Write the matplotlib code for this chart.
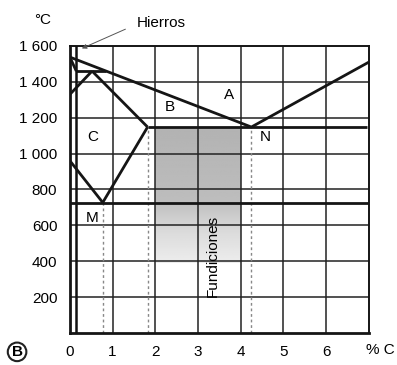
import matplotlib
matplotlib.use("Agg")
import matplotlib.pyplot as plt
import numpy as np

plt.rcParams["font.family"] = ["Liberation Sans", "DejaVu Sans"]

# diagram lines (% C, deg C)
liq_x = [0, 4.25, 7]
liq_t = [1538, 1148, 1510]
sol_x = [0.52, 1.82]
sol_t = [1460, 1148]
peri_x = [0.15, 0.85]
peri_t = [1460, 1460]
delta1_x = [0, 0.15]
delta1_t = [1538, 1460]
delta2_x = [0, 0.52]
delta2_t = [1330, 1460]
gam_x = [0, 0.77]
gam_t = [960, 727]
acm_x = [0.77, 1.82]
acm_t = [727, 1148]
eut_x = [1.82, 6.95]
eut_t = [1148, 1148]
eutd_x = [0, 7]
eutd_t = [727, 727]
dotted_x = [0.77, 1.82, 4.25]
dotted_top = [727, 1148, 1148]

# shaded "fundiciones" area and its fade
fund_x = [2, 4]
fund_t = [390, 1148]
fade_t = [390, 560, 750, 1148]
fade_g = [0.93, 0.86, 0.74, 0.70]

labels = ["A", "B", "C", "M", "N"]
label_x = [3.72, 2.34, 0.54, 0.52, 4.57]
label_t = [1326, 1259, 1092, 640, 1092]

xticks = [0, 1, 2, 3, 4, 5, 6]
yticks = [200, 400, 600, 800, 1000, 1200, 1400, 1600]
ylabels = ["200", "400", "600", "800", "1 000", "1 200", "1 400", "1 600"]

fig = plt.figure(figsize=(3.97, 3.65), dpi=100)
ax = fig.add_axes([0.176, 0.088, 0.753, 0.786])
ax.set_xlim(0, 7)
ax.set_ylim(0, 1600)

# gradient shading
tt = np.linspace(fund_t[0], fund_t[1], 200)
g = np.interp(tt, fade_t, fade_g)
img = np.repeat(g[:, None], 2, axis=1)
ax.imshow(img, extent=[fund_x[0], fund_x[1], fund_t[0], fund_t[1]],
          origin="lower", cmap="gray", vmin=0, vmax=1, aspect="auto",
          interpolation="bilinear", zorder=1)

# grid
for x in range(1, 7):
    ax.axvline(x, color="#222222", lw=1.1, zorder=2)
for y in yticks[:-1]:
    ax.axhline(y, color="#222222", lw=1.1, zorder=2)
ax.axvline(0.15, color="#111111", lw=1.8, zorder=3)

for xd, top in zip(dotted_x, dotted_top):
    ax.plot([xd, xd], [0, top], color="#888888", lw=1.0, ls=(0, (2, 2)), zorder=2)

lw = 2.0
for xs, ts in [(liq_x, liq_t), (sol_x, sol_t), (peri_x, peri_t),
               (delta1_x, delta1_t), (delta2_x, delta2_t), (gam_x, gam_t),
               (acm_x, acm_t), (eut_x, eut_t), (eutd_x, eutd_t)]:
    ax.plot(xs, ts, color="#151515", lw=lw, solid_capstyle="butt", zorder=4)

for s, x, t in zip(labels, label_x, label_t):
    ax.text(x, t, s, fontsize=11, ha="center", va="center", zorder=5)

ax.text(3.35, 430, "Fundiciones", rotation=90, fontsize=11, ha="center",
        va="center", zorder=5)

ax.set_xticks(xticks)
ax.set_xticklabels([str(v) for v in xticks], fontsize=11)
ax.set_yticks(yticks)
ax.set_yticklabels(ylabels, fontsize=11)
ax.tick_params(length=0, pad=9)
for side in ["left", "bottom"]:
    ax.spines[side].set_linewidth(2.0)
for side in ["right", "top"]:
    ax.spines[side].set_linewidth(1.4)
for sp in ax.spines.values():
    sp.set_color("#151515")

ax.text(7.27, -95, "% C", fontsize=11, ha="center", va="center", clip_on=False)
ax.text(-0.63, 1745, "°C", fontsize=11, ha="center", va="center", clip_on=False)
ax.text(2.15, 1728, "Hierros", fontsize=11, ha="center", va="center", clip_on=False)
ax.annotate("", xy=(0.22, 1580), xytext=(1.36, 1700),
            arrowprops=dict(arrowstyle="-|>", color="#555555", lw=0.7,
                            mutation_scale=7), annotation_clip=False)

fig.text(0.043, 0.036, "B", fontsize=11, fontweight="bold", ha="center",
         va="center",
         bbox=dict(boxstyle="circle,pad=0.15", fc="white", ec="#222222", lw=1.5))

fig.savefig("out.png", dpi=100)
